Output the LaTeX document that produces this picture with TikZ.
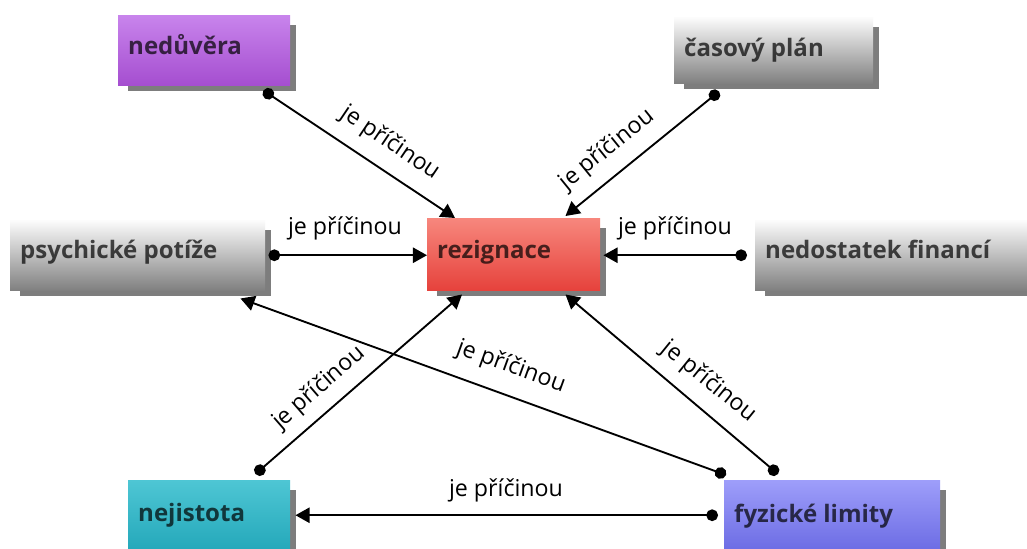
\documentclass[tikz,border=0pt]{standalone}
\usepackage{fontspec}
\setmainfont{Open Sans}
\usetikzlibrary{arrows.meta,calc}
\definecolor{shadowc}{RGB}{125,125,125}
\definecolor{nedT}{RGB}{200,132,236}
\definecolor{nedB}{RGB}{165,78,208}
\definecolor{grayT}{RGB}{252,252,252}
\definecolor{grayB}{RGB}{128,128,128}
\definecolor{rezT}{RGB}{247,135,125}
\definecolor{rezB}{RGB}{230,66,60}
\definecolor{nejT}{RGB}{78,198,212}
\definecolor{nejB}{RGB}{36,168,186}
\definecolor{fyzT}{RGB}{158,158,250}
\definecolor{fyzB}{RGB}{108,108,228}
\newcommand\mybox[8]{% name, x, y, w, h, colors, baseline offset, text
  \fill[shadowc] (#2+10,#3+10) rectangle (#2+#4+6,#3+#5+6);
  \node[box,#6,minimum width=#4*0.03cm,minimum height=#5*0.03cm] (#1) at (#2,#3) {};
  \node[boxtext] (#1t) at (#2+10,#3+#7) {#8};
}
\begin{document}
\begin{tikzpicture}[x=0.03cm,y=-0.03cm,
  box/.style={draw=none,inner sep=0pt,anchor=north west},
  boxtext/.style={anchor=base west,inner sep=0pt,font=\fontsize{20.5}{24}\selectfont\bfseries,text=black,text opacity=0.7},
  conn/.style={line width=1.6pt,{Circle[length=10pt]}-{Triangle[length=12pt,width=13pt]}},
  lab/.style={inner sep=0pt,font=\fontsize{19.8}{23}\selectfont}
]
\useasboundingbox (0,0) rectangle (1027,548);
\clip (0,0) rectangle (1027,548);
\fill[white] (0,0) rectangle (1027,548);

\mybox{ned}{118}{15}{172}{70}{top color=nedT,bottom color=nedB}{39}{nedůvěra}
\mybox{cas}{674}{17}{199}{66}{top color=grayT,bottom color=grayB}{39}{časový plán}
\mybox{rez}{427}{218}{173}{72}{top color=rezT,bottom color=rezB}{40}{rezignace}
\mybox{psy}{10}{220}{255}{70}{top color=grayT,bottom color=grayB}{38}{psychické potíže}
\mybox{fin}{755}{220}{290}{70}{top color=grayT,bottom color=grayB}{38}{nedostatek financí}
\mybox{nej}{128}{480}{162}{70}{top color=nejT,bottom color=nejB}{41}{nejistota}
\mybox{fyz}{724}{480}{216}{70}{top color=fyzT,bottom color=fyzB}{42}{fyzické limity}

\draw[conn] ($(ned.south east)+(-27,5)$) -- ($(rez.north west)+(28,0)$);
\draw[conn] ($(cas.south west)+(45,8)$) -- ($(rez.north east)+(-35,-2)$);
\draw[conn] ($(psy.east)+(3,0)$) -- (psy.east -| rez.west);
\draw[conn] ($(fin.west)+(-8,0)$) -- ($(fin.west -| rez.east)+(3,0)$);
\draw[conn] ($(nej.north east)+(-35,-6)$) -- ($(rez.south west)+(35,4)$);
\draw[conn] ($(fyz.north west)+(2,-5)$) -- ($(psy.south east)+(-25,8)$);
\draw[conn] ($(fyz.north west)+(54,-6)$) -- ($(rez.south east)+(-35,4)$);
\draw[conn] ($(fyz.west)+(-6,0)$) -- ($(fyz.west -| nej.east)+(5,0)$);

\node[lab,rotate=-34] (l1) at (390,143) {je příčinou};
\node[lab,rotate=39] (l2) at (607,150) {je příčinou};
\node[lab] (l3) at (345,228) {je příčinou};
\node[lab] (l4) at (675,228) {je příčinou};
\node[lab,rotate=41] (l5) at (319,388) {je příčinou};
\node[lab,rotate=-20] (l6) at (511,367) {je příčinou};
\node[lab,rotate=-39] (l7) at (709,382) {je příčinou};
\node[lab] (l8) at (506,490) {je příčinou};
\end{tikzpicture}
\end{document}
